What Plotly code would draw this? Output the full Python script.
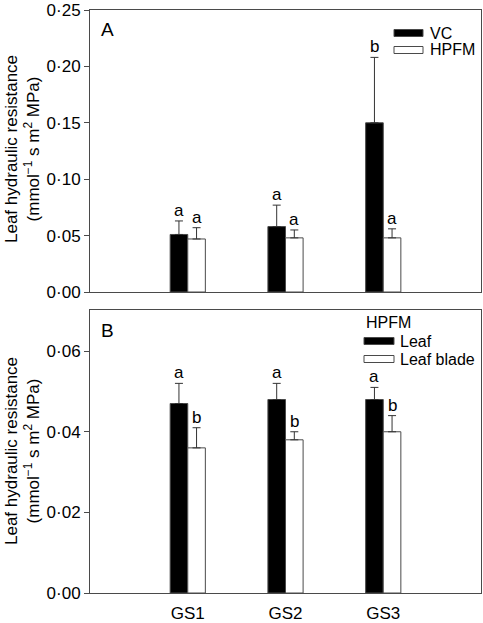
import plotly.graph_objects as go

categories = ["GS1", "GS2", "GS3"]

# Panel A
vc_mean = [0.051, 0.058, 0.150]
vc_err = [0.012, 0.019, 0.058]
hpfm_mean = [0.047, 0.048, 0.048]
hpfm_err = [0.010, 0.007, 0.008]
vc_letters = ["a", "a", "b"]
hpfm_letters = ["a", "a", "a"]

# Panel B
leaf_mean = [0.047, 0.048, 0.048]
leaf_err = [0.005, 0.004, 0.003]
blade_mean = [0.036, 0.038, 0.040]
blade_err = [0.005, 0.002, 0.004]
leaf_letters = ["a", "a", "a"]
blade_letters = ["b", "b", "b"]

yticksA = [0.0, 0.05, 0.10, 0.15, 0.20, 0.25]
yticktextA = ["0·00", "0·05", "0·10", "0·15", "0·20", "0·25"]
yticksB = [0.0, 0.02, 0.04, 0.06]
yticktextB = ["0·00", "0·02", "0·04", "0·06"]

FONT = "Liberation Sans, Arial, Helvetica, sans-serif"
FS = 17
LFS = 16
LINE = "#4a4a4a"

fig = go.Figure()

def add_bar(x, y, err, fill, xa, ya):
    fig.add_trace(go.Bar(
        x=x, y=y, xaxis=xa, yaxis=ya,
        marker=dict(color=fill, line=dict(color=LINE, width=1)),
        error_y=dict(type="data", symmetric=False, array=err,
                     arrayminus=[0] * len(err), color="#333333",
                     thickness=1, width=4),
        showlegend=False, hoverinfo="skip",
    ))

add_bar(categories, vc_mean, vc_err, "black", "x", "y")
add_bar(categories, hpfm_mean, hpfm_err, "white", "x", "y")
add_bar(categories, leaf_mean, leaf_err, "black", "x2", "y2")
add_bar(categories, blade_mean, blade_err, "white", "x2", "y2")

SHIFT = 8.8
annotations = []

def add_letters(means, errs, letters, xref, yref, shift):
    for c, m, e, t in zip(categories, means, errs, letters):
        annotations.append(dict(
            x=c, y=m + e, xref=xref, yref=yref, text=t, showarrow=False,
            xanchor="center", yanchor="bottom", xshift=shift, yshift=-1,
            font=dict(family=FONT, size=FS, color="black")))

add_letters(vc_mean, vc_err, vc_letters, "x", "y", -SHIFT)
add_letters(hpfm_mean, hpfm_err, hpfm_letters, "x", "y", SHIFT)
add_letters(leaf_mean, leaf_err, leaf_letters, "x2", "y2", -SHIFT)
add_letters(blade_mean, blade_err, blade_letters, "x2", "y2", SHIFT)

# pixel -> paper helpers (plot area x:90..481, y:10..593)
def px(x):
    return (x - 90) / 391.0

def py(y):
    return (593 - y) / 583.0

ytitle = "Leaf hydraulic resistance<br>(mmol<sup>−1</sup> s m<sup>2</sup> MPa)"
for yc in [149, 451]:
    annotations.append(dict(
        x=px(22), y=py(yc), xref="paper", yref="paper", text=ytitle,
        showarrow=False, textangle=-90, xanchor="center", yanchor="middle",
        font=dict(family=FONT, size=FS, color="black")))

# panel letters
annotations.append(dict(x=px(99), y=py(29), xref="paper", yref="paper", text="A",
                        showarrow=False, xanchor="left", yanchor="middle",
                        font=dict(family=FONT, size=19, color="black")))
annotations.append(dict(x=px(99), y=py(330), xref="paper", yref="paper", text="B",
                        showarrow=False, xanchor="left", yanchor="middle",
                        font=dict(family=FONT, size=19, color="black")))

# custom legends
shapes = []
def legend_item(x0, x1, yc, fill, label, tx):
    shapes.append(dict(type="rect", xref="paper", yref="paper",
                       x0=px(x0), x1=px(x1), y0=py(yc + 3.5), y1=py(yc - 3.5),
                       fillcolor=fill, line=dict(color=LINE, width=1)))
    annotations.append(dict(x=px(tx), y=py(yc), xref="paper", yref="paper",
                            text=label, showarrow=False, xanchor="left",
                            yanchor="middle", borderpad=0,
                            font=dict(family=FONT, size=LFS, color="black")))

legend_item(394, 423, 33, "black", "VC", 429)
legend_item(394, 423, 50, "white", "HPFM", 429)
annotations.append(dict(x=px(365), y=py(323), xref="paper", yref="paper",
                        text="HPFM", showarrow=False, xanchor="left",
                        yanchor="middle", borderpad=0,
                        font=dict(family=FONT, size=LFS, color="black")))
legend_item(364, 394, 341, "black", "Leaf", 399)
legend_item(364, 394, 359, "white", "Leaf blade", 399)

axis_common = dict(showline=True, mirror=True, linecolor=LINE, linewidth=1,
                   showgrid=False, zeroline=False)

fig.update_layout(
    width=483, height=623,
    margin=dict(l=90, r=2, t=10, b=30, autoexpand=False),
    paper_bgcolor="white", plot_bgcolor="white",
    barmode="group", bargap=0.64, bargroupgap=0,
    font=dict(family=FONT, size=FS, color="black"),
    xaxis=dict(domain=[0, 1], anchor="y", type="category",
               categoryorder="array", categoryarray=categories,
               range=[-1, 3], showticklabels=False, ticks="",
               **axis_common),
    yaxis=dict(domain=[py(292), 1], anchor="x", range=[0, 0.25],
               tickvals=yticksA, ticktext=yticktextA, ticks="outside",
               ticklen=5, tickcolor=LINE, **axis_common),
    xaxis2=dict(domain=[0, 1], anchor="y2", type="category",
                categoryorder="array", categoryarray=categories,
                range=[-1, 3], ticks="outside", ticklen=5,
                tickcolor="rgba(0,0,0,0)", **axis_common),
    yaxis2=dict(domain=[0, py(310)], anchor="x2", range=[0, 0.0702],
                tickvals=yticksB, ticktext=yticktextB, ticks="outside",
                ticklen=5, tickcolor=LINE, **axis_common),
    annotations=annotations,
    shapes=shapes,
)

fig.write_html(
    "out.html",
    config={"displayModeBar": False},
    post_script="document.body.style.margin='0';document.body.style.overflow='hidden';",
)
